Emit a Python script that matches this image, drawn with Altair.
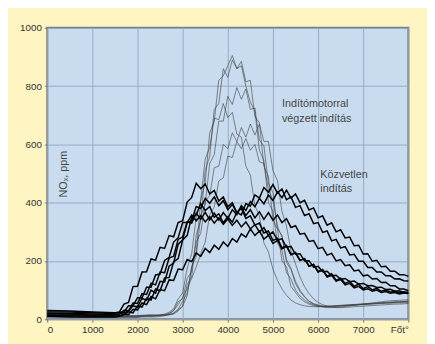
import altair as alt
import pandas as pd

# sample positions (Főt°)
X = [0, 500, 1000] + list(range(1500, 8001, 100))

# "Közvetlen indítás" curves (thick)
K1 = [25, 25, 22,
      20, 25, 52, 58, 112, 113, 162, 163, 207, 203,
      247, 243, 287, 283, 332, 338, 402, 418, 467, 448,
      464, 430, 442, 406, 420, 386, 400, 366, 380, 346,
      355, 323, 330, 296, 303, 270, 278, 245, 253, 222,
      229, 202, 208, 182, 188, 163, 171, 147, 156, 133,
      141, 123, 130, 113, 121, 105, 112, 101, 106, 96,
      101, 93, 97, 90, 94, 91]
K2 = [18, 18, 15,
      15, 18, 22, 28, 46, 42, 72, 65, 100, 90,
      130, 128, 182, 193, 257, 273, 332, 338, 387, 380,
      415, 398, 420, 390, 407, 376, 394, 365, 384, 356,
      376, 348, 369, 343, 366, 340, 358, 332, 345, 315,
      321, 292, 295, 267, 270, 242, 247, 220, 226, 200,
      205, 184, 187, 166, 169, 149, 152, 138, 140, 126,
      127, 115, 115, 104, 104, 98]
K3 = [12, 12, 10,
      10, 12, 15, 26, 22, 46, 42, 72, 66, 104,
      98, 142, 143, 197, 208, 272, 288, 352, 358, 397,
      373, 387, 350, 362, 331, 352, 333, 367, 358, 397,
      388, 427, 416, 452, 436, 462, 433, 447, 410, 420,
      384, 390, 356, 362, 328, 332, 298, 303, 269, 274,
      245, 249, 221, 223, 199, 199, 178, 178, 162, 162,
      149, 149, 138, 139, 132, 131]
K4 = [20, 20, 18,
      16, 18, 31, 29, 56, 54, 88, 85, 124, 118,
      162, 160, 210, 216, 274, 283, 334, 330, 364, 343,
      367, 341, 364, 340, 366, 346, 376, 359, 390, 373,
      404, 386, 415, 396, 426, 408, 437, 417, 443, 416,
      430, 400, 408, 375, 382, 348, 355, 323, 331, 300,
      307, 279, 282, 252, 254, 224, 225, 199, 202, 180,
      182, 165, 165, 153, 153, 147]
K5 = [30, 28, 25,
      22, 24, 25, 46, 46, 74, 74, 110, 110, 152,
      155, 202, 212, 265, 280, 332, 332, 358, 338, 356,
      334, 352, 330, 348, 326, 344, 322, 340, 317, 334,
      310, 325, 300, 314, 288, 300, 272, 276, 247, 250,
      223, 225, 200, 201, 179, 182, 163, 165, 149, 151,
      137, 140, 129, 131, 121, 123, 115, 116, 109, 110,
      102, 103, 96, 98, 92, 92]
K6 = [10, 8, 8,
      8, 10, 18, 16, 34, 32, 56, 50, 78, 70,
      102, 98, 135, 133, 172, 170, 205, 198, 228, 216,
      243, 229, 254, 240, 265, 250, 277, 265, 293, 282,
      310, 288, 302, 275, 288, 260, 271, 241, 251, 221,
      228, 202, 208, 182, 188, 162, 169, 145, 151, 131,
      136, 118, 123, 108, 113, 101, 105, 96, 100, 92,
      95, 89, 92, 87, 90, 88]

# "Indítómotorral végzett indítás" curves (thin)
T1 = [15, 15, 12,
      10, 10, 10, 10, 10, 10, 12, 12, 12, 12,
      14, 14, 15, 18, 28, 45, 80, 180, 230, 410,
      470, 640, 680, 820, 835, 870, 905, 860, 870, 800,
      745, 715, 580, 545, 400, 370, 260, 235, 160, 138,
      100, 80, 66, 56, 50, 46, 44, 43, 43, 44,
      45, 46, 47, 48, 49, 50, 51, 52, 53, 54,
      55, 55, 56, 56, 57, 57]
T2 = [20, 18, 15,
      12, 12, 12, 12, 12, 12, 14, 14, 15, 15,
      14, 15, 16, 20, 32, 45, 120, 145, 290, 340,
      510, 560, 720, 740, 860, 830, 890, 860, 885, 815,
      820, 695, 675, 525, 490, 340, 310, 200, 180, 112,
      92, 72, 60, 52, 47, 44, 43, 43, 44, 45,
      46, 47, 48, 49, 50, 51, 52, 53, 54, 55,
      56, 57, 58, 58, 59, 60]
T3 = [8, 8, 8,
      8, 8, 8, 8, 8, 8, 10, 10, 10, 12,
      12, 14, 16, 22, 35, 60, 90, 180, 215, 355,
      395, 535, 565, 680, 680, 765, 737, 795, 755, 790,
      720, 725, 615, 595, 465, 435, 310, 288, 195, 170,
      122, 95, 76, 62, 54, 49, 46, 45, 45, 46,
      47, 48, 49, 50, 51, 52, 53, 54, 55, 56,
      57, 58, 59, 60, 61, 62]
T4 = [12, 12, 10,
      10, 10, 10, 10, 10, 10, 10, 12, 12, 12,
      14, 16, 20, 30, 60, 70, 140, 165, 265, 295,
      405, 425, 520, 525, 600, 585, 640, 610, 658, 625,
      670, 632, 670, 610, 610, 510, 475, 370, 320, 235,
      190, 145, 112, 88, 70, 58, 50, 45, 42, 40,
      40, 41, 42, 43, 44, 45, 46, 47, 48, 49,
      50, 51, 52, 52, 53, 54]
T5 = [8, 8, 6,
      6, 6, 6, 6, 6, 6, 8, 8, 8, 8,
      10, 12, 18, 30, 50, 75, 105, 140, 180, 225,
      265, 360, 385, 475, 485, 560, 555, 610, 585, 620,
      580, 600, 540, 535, 445, 410, 318, 282, 205, 175,
      130, 100, 78, 62, 52, 46, 42, 40, 40, 41,
      42, 44, 46, 48, 50, 52, 54, 56, 58, 60,
      62, 63, 64, 65, 66, 67]
T6 = [15, 15, 12,
      12, 12, 12, 12, 12, 12, 12, 14, 14, 14,
      15, 18, 24, 36, 70, 90, 175, 225, 350, 410,
      550, 590, 690, 685, 740, 692, 710, 635, 625, 525,
      495, 390, 355, 262, 230, 172, 134, 104, 82, 66,
      56, 50, 46, 44, 43, 43, 44, 45, 46, 47,
      48, 49, 50, 51, 52, 53, 54, 55, 56, 57,
      58, 59, 60, 60, 61, 62]

X_TICKS = [0, 1000, 2000, 3000, 4000, 5000, 6000, 7000, 8000]
Y_TICKS = [0, 200, 400, 600, 800, 1000]

ANNOT_TXT = ["Indítómotorral", "végzett indítás", "Közvetlen", "indítás"]
ANNOT_X = [5200, 5200, 6050, 6050]
ANNOT_Y = [737, 688, 495, 448]

YTITLE_TXT = ["NOₓ, ppm"]
YTITLE_X = [370]
YTITLE_Y = [498]


def build(curves):
    rows = []
    for name, vals in curves.items():
        assert len(vals) == len(X), (name, len(vals))
        for x, y in zip(X, vals):
            rows.append({"x": x, "y": y, "curve": name})
    return pd.DataFrame(rows)


thick_df = build({"K1": K1, "K2": K2, "K3": K3, "K4": K4, "K5": K5, "K6": K6})
thin_df = build({"T1": T1, "T2": T2, "T3": T3, "T4": T4, "T5": T5, "T6": T6})

FONT = "Liberation Sans"
xs = alt.Scale(domain=[0, 8000], nice=False)
ys = alt.Scale(domain=[0, 1000], nice=False)

x_axis = alt.Axis(values=X_TICKS, title=None, domain=False,
                  labelExpr="datum.value == 8000 ? 'Főt°' : format(datum.value, 'd')",
                  tickSize=3, tickColor="#777777", labelPadding=3,
                  labelFont=FONT, labelFontSize=10, labelColor="#333333",
                  gridColor="#95aac2", gridWidth=1)
y_axis = alt.Axis(values=Y_TICKS, title=None, domain=False, format="d",
                  tickSize=3, tickColor="#777777", labelPadding=3,
                  labelFont=FONT, labelFontSize=10, labelColor="#333333",
                  gridColor="#95aac2", gridWidth=1)

thin = alt.Chart(thin_df).mark_line(strokeWidth=0.8, color="#3a3a3a", opacity=0.75).encode(
    x=alt.X("x:Q", scale=xs, axis=x_axis),
    y=alt.Y("y:Q", scale=ys, axis=y_axis),
    detail="curve:N",
)
thick = alt.Chart(thick_df).mark_line(strokeWidth=1.5, color="#000000").encode(
    x=alt.X("x:Q", scale=xs),
    y=alt.Y("y:Q", scale=ys),
    detail="curve:N",
)

annot = alt.Chart(pd.DataFrame({"t": ANNOT_TXT, "x": ANNOT_X, "y": ANNOT_Y})).mark_text(
    align="left", baseline="middle", font=FONT, fontSize=11, color="#444444"
).encode(x=alt.X("x:Q", scale=xs), y=alt.Y("y:Q", scale=ys), text="t:N")

ytitle = alt.Chart(pd.DataFrame({"t": YTITLE_TXT, "x": YTITLE_X, "y": YTITLE_Y})).mark_text(
    align="center", baseline="middle", angle=270, font=FONT, fontSize=11, color="#444444"
).encode(x=alt.X("x:Q", scale=xs), y=alt.Y("y:Q", scale=ys), text="t:N")

chart = alt.layer(thin, thick, annot, ytitle).properties(
    width=368, height=297,
    autosize=alt.AutoSizeParams(type="none"),
    padding={"left": 40, "top": 17, "right": 19, "bottom": 22},
    background="#fff5c2",
).configure_view(fill="#c9dcef", stroke="#7a7a7a", strokeWidth=2)

chart.save("out.html", embed_options={"renderer": "svg", "actions": False})
